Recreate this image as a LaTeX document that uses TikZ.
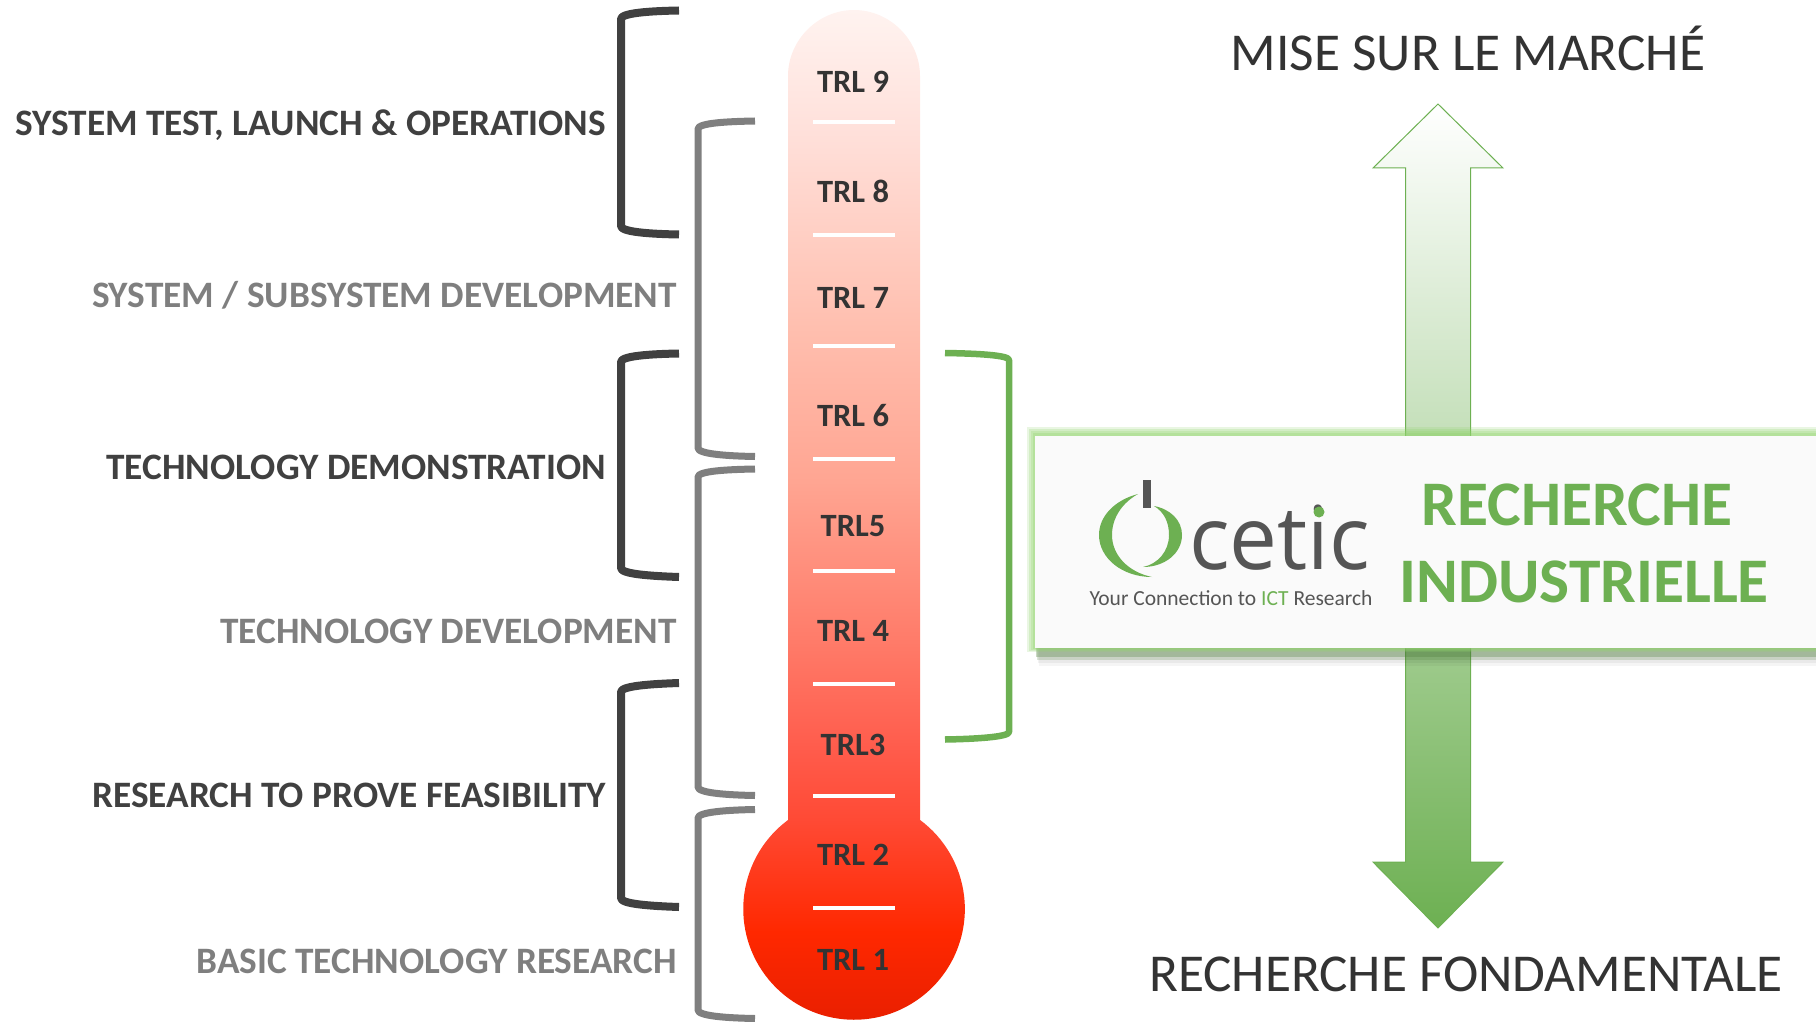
\documentclass[tikz,border=0pt]{standalone}
\usepackage{fontspec}
\setmainfont{Carlito}
\newfontfamily\logofont[FakeStretch=.97]{Open Sans}
\usetikzlibrary{positioning}
\definecolor{trlgreen}{HTML}{6DB052}
\definecolor{trldark}{HTML}{404040}
\definecolor{trlgray}{HTML}{7F7F7F}
\definecolor{trltext}{HTML}{333333}
\definecolor{logogray}{HTML}{555555}
\definecolor{glowgreen}{HTML}{92D36E}
\definecolor{trlA}{HTML}{E61E00}
\definecolor{trlB}{HTML}{FF2800}
\definecolor{trlC}{HTML}{FF4A35}
\definecolor{trlD}{HTML}{FF5C4C}
\definecolor{trlE}{HTML}{FF7A68}
\definecolor{trlF}{HTML}{FFA592}
\definecolor{trlG}{HTML}{FFBFAF}
\definecolor{trlH}{HTML}{FFE0DA}
\definecolor{trlI}{HTML}{FFF3F0}
\pgfdeclareverticalshading{thermo}{100bp}{
  color(0bp)=(trlA);
  color(25bp)=(trlA);
  color(30bp)=(trlB);
  color(35.5bp)=(trlC);
  color(39bp)=(trlD);
  color(44bp)=(trlE);
  color(52bp)=(trlF);
  color(59.5bp)=(trlG);
  color(69bp)=(trlH);
  color(75bp)=(trlI);
  color(100bp)=(trlI)}
\tikzset{
  trl/.style={font=\fontsize{32.5}{38}\selectfont\bfseries, text=trltext, inner sep=0pt},
  tickline/.style={white, line width=4pt},
  darklabel/.style={font=\fontsize{37.3}{42}\selectfont\bfseries, text=trldark, anchor=east, inner sep=0pt},
  graylabel/.style={font=\fontsize{37.3}{42}\selectfont\bfseries, text=trlgray, anchor=east, inner sep=0pt},
  darkbracket/.style={draw=trldark, line width=8pt, line join=round},
  graybracket/.style={draw=trlgray, line width=7pt, line join=round},
  bigtext/.style={font=\fontsize{53.3}{60}\selectfont, text=trltext, inner sep=0pt},
  greentext/.style={font=\fontsize{63.5}{70}\selectfont\bfseries, text=trlgreen, inner sep=0pt},
}
\begin{document}
\begin{tikzpicture}[x=1pt, y=-1pt]
	\useasboundingbox (0,0) rectangle (1816,1022);
	% thermometer
	\path[shade, shading=thermo] (788,820) arc[start angle=126.6, end angle=413.4, radius=110.8pt] -- (920,76)
		.. controls (920,40) and (890,10) .. (854,10) .. controls (818,10) and (788,40) .. (788,76) -- cycle;
	\draw[tickline] (813,122) -- (895,122);
	\draw[tickline] (813,235) -- (895,235);
	\draw[tickline] (813,346) -- (895,346);
	\draw[tickline] (813,459) -- (895,459);
	\draw[tickline] (813,571) -- (895,571);
	\draw[tickline] (813,684) -- (895,684);
	\draw[tickline] (813,796) -- (895,796);
	\draw[tickline] (813,908) -- (895,908);
	\node (trl9) [trl] at (853,82) {TRL 9};
	\node (trl8) [trl] at (853,191) {TRL 8};
	\node (trl7) [trl] at (853,298) {TRL 7};
	\node (trl6) [trl] at (853,416) {TRL 6};
	\node (trl5) [trl] at (853,526) {TRL5};
	\node (trl4) [trl] at (853,631) {TRL 4};
	\node (trl3) [trl] at (853,745) {TRL3};
	\node (trl2) [trl] at (853,855) {TRL 2};
	\node (trl1) [trl] at (853,960) {TRL 1};
	% brackets
	\draw[darkbracket] (679,10.5) .. controls (650,11) and (621,13) .. (621,19) -- (621,226) .. controls (621,232) and (650,234) .. (679,234.5);
	\draw[darkbracket] (679,353.5) .. controls (650,354) and (621,356) .. (621,362) -- (621,568) .. controls (621,574) and (650,576) .. (679,577);
	\draw[darkbracket] (679,683) .. controls (650,684) and (621,686) .. (621,692) -- (621,898) .. controls (621,904) and (650,906) .. (679,907);
	\draw[graybracket] (755,121) .. controls (727,121.5) and (698,123) .. (698,129) -- (698,448) .. controls (698,454) and (727,456) .. (755,456.5);
	\draw[graybracket] (755,469) .. controls (727,469.5) and (698,471) .. (698,477) -- (698,787) .. controls (698,793) and (727,795) .. (755,795.5);
	\draw[graybracket] (755,809.5) .. controls (727,810) and (698,812) .. (698,818) -- (698,1010) .. controls (698,1016) and (727,1018) .. (755,1018.5);
	\draw[draw=trlgreen, line width=6.5pt, line join=round] (945,353) .. controls (975,353.5) and (1009,355) .. (1009,360) -- (1009,732) .. controls (1009,737) and (975,739) .. (945,739.5);
	% left labels
	\node (test) [darklabel] at (606,125) {SYSTEM TEST, LAUNCH \& OPERATIONS};
	\node (subsys) [graylabel] at (677,295) {SYSTEM / SUBSYSTEM DEVELOPMENT};
	\node (demo) [darklabel] at (606,467) {TECHNOLOGY DEMONSTRATION};
	\node (dev) [graylabel] at (677,631) {TECHNOLOGY DEVELOPMENT};
	\node (proof) [darklabel] at (606,795) {RESEARCH TO PROVE FEASIBILITY};
	\node (basic) [graylabel] at (677,961) {BASIC TECHNOLOGY RESEARCH};
	% arrow
	\draw[trlgreen, line width=1pt, top color=white, bottom color=trlgreen] (1438,104) -- (1503,168) -- (1470.5,168) -- (1470.5,862) -- (1503,862)
		-- (1438,928) -- (1373,862) -- (1405.5,862) -- (1405.5,168) -- (1373,168) -- cycle;
	\node (market) [bigtext] at (1468,48) {MISE SUR LE MARCHÉ};
	\node (fund) [bigtext] at (1466,974) {RECHERCHE FONDAMENTALE};
	% box with glow
	\fill[black, opacity=.04] (1039,445) rectangle (1816,666);
	\fill[black, opacity=.05] (1038,445) rectangle (1816,663);
	\fill[trlgreen!70!black, opacity=.2] (1037,445) rectangle (1816,660);
	\fill[trlgreen!70!black, opacity=.3] (1036,445) rectangle (1816,657);
	\fill[glowgreen, opacity=.2] (1027,427) rectangle (1816,652);
	\fill[glowgreen, opacity=.25] (1029,429) rectangle (1816,651);
	\fill[glowgreen, opacity=.25] (1031,431) rectangle (1816,650);
	\fill[glowgreen, opacity=.3] (1033,433) rectangle (1816,649);
	\node (box) [fill=white!98!black, minimum width=781pt, minimum height=212pt, inner sep=0pt, anchor=north west] at (1035,436) {};
	\node (recherche) [greentext] at (1577,505) {RECHERCHE};
	\node (indus) [greentext] at (1584,582) {INDUSTRIELLE};
	% logo
	\fill[trlgreen] (1138,494) .. controls (1115,500) and (1099,516) .. (1099,535) .. controls (1099,558) and (1122,577) .. (1152,577)
		.. controls (1128,572) and (1112,555) .. (1112,535) .. controls (1112,518) and (1122,503) .. (1138,494) -- cycle;
	\fill[trlgreen] (1154,506) .. controls (1170,509) and (1182,520) .. (1182,535) .. controls (1182,553) and (1165,567) .. (1143,567)
		.. controls (1158,564) and (1169,551) .. (1169,535) .. controls (1169,522) and (1164,512) .. (1154,506) -- cycle;
	\fill[logogray] (1143,480) rectangle (1151,508);
	\node (cetic) [font=\fontsize{88}{94}\selectfont\logofont, text=logogray, inner sep=0pt, anchor=base west] at (1189,569) {cetic};
	\fill[trlgreen] (1319,512) circle[radius=5.5pt];
	\node (tagline) [font=\fontsize{21.5}{26}\selectfont, text=logogray, inner sep=0pt] at (1231,598) {Your Connection to \textcolor{trlgreen}{ICT} Research};
\end{tikzpicture}
\end{document}
